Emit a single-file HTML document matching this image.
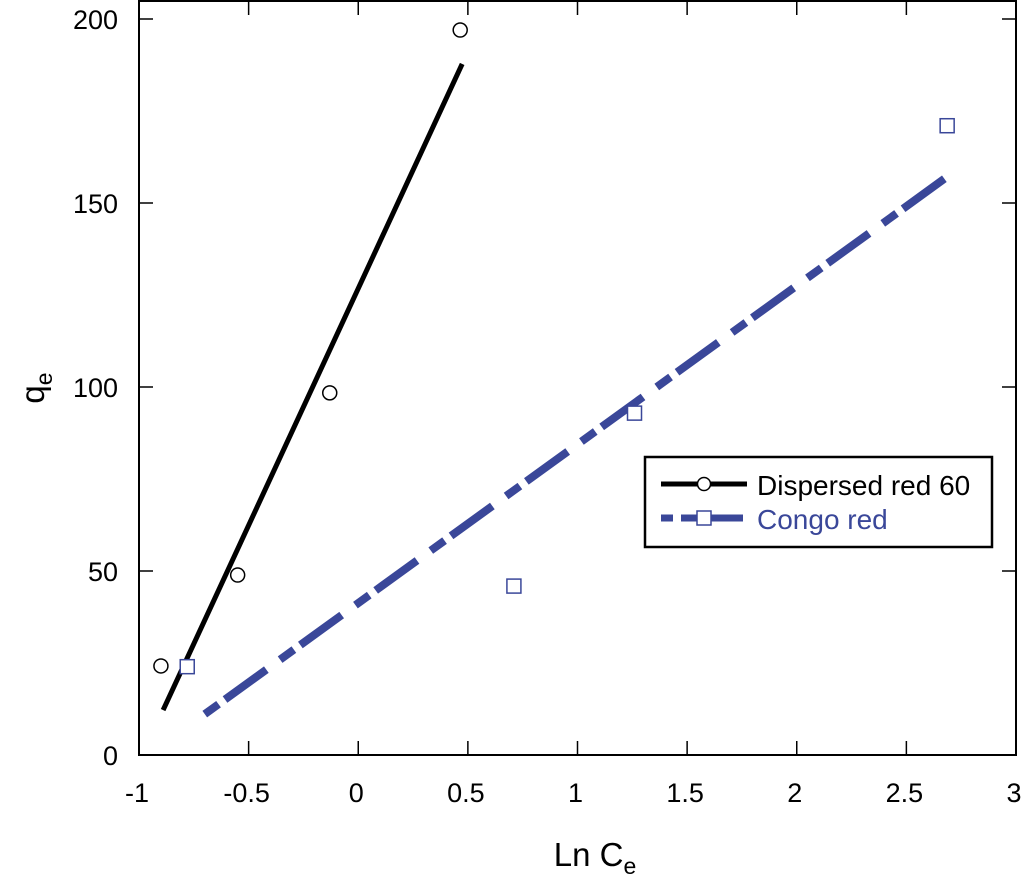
<!DOCTYPE html>
<html><head><meta charset="utf-8"><style>
body{margin:0;background:#fff}
svg{font-family:"Liberation Sans",Arial,sans-serif}
</style></head><body>
<svg width="1024" height="879" viewBox="0 0 1024 879">
<g id="axes"></g>
<g id="series"></g>
<g>
<rect x="645" y="457" width="347" height="90" fill="#fff" stroke="#000" stroke-width="2.5"/>
<g>
<line x1="661" y1="484" x2="747" y2="484" stroke="#000" stroke-width="5"/>
<circle cx="704" cy="484" r="6.5" fill="#fff" stroke="#000" stroke-width="1.5"/>
<text x="757" y="495" font-size="28" fill="#000">Dispersed red 60</text>
</g>
<g>
<line x1="661" y1="518" x2="673" y2="518" stroke="#3a4799" stroke-width="7"/>
<line x1="681" y1="518" x2="743" y2="518" stroke="#3a4799" stroke-width="7"/>
<rect x="697" y="511" width="14" height="14" fill="#fff" stroke="#3a4799" stroke-width="1.5"/>
<text x="757" y="529" font-size="28" fill="#3a4799">Congo red</text>
</g>
</g>
<text x="595" y="866" font-size="33" text-anchor="middle">Ln C<tspan font-size="23" dy="8">e</tspan></text>
<text transform="translate(44,388) rotate(-90)" font-size="33" text-anchor="middle">q<tspan font-size="23" dy="8">e</tspan></text>
</svg>
<script>
const xTicks=[-1,-0.5,0,0.5,1,1.5,2,2.5,3];
const xTickLabels=["-1","-0.5","0","0.5","1","1.5","2","2.5","3"];
const yTicks=[0,50,100,150,200];
const yTickLabels=["0","50","100","150","200"];
const dispX=[-0.90,-0.55,-0.13,0.465];
const dispY=[24.2,48.9,98.4,197];
const dispFitX=[-0.89,0.474];
const dispFitY=[12.2,187.8];
const congoX=[-0.78,0.71,1.26,2.686];
const congoY=[24,45.9,92.9,171];
const congoFitX=[-0.70,2.69];
const congoFitY=[11.1,157.3];
const L=139,R=1016,T=1,B=755;
const sx=v=>L+(v+1)*(R-L)/4;
const sy=v=>755-v*(755-19)/200;
const NS="http://www.w3.org/2000/svg";
function mk(tag,attrs,parent){const e=document.createElementNS(NS,tag);for(const k in attrs)e.setAttribute(k,attrs[k]);parent.appendChild(e);return e;}
const ax=document.getElementById('axes');
const fr=mk('rect',{x:L,y:T,width:R-L,height:B-T,fill:'none',stroke:'#000','stroke-width':2},ax);


xTicks.forEach((v,i)=>{
 const x=sx(v);
 const t=mk('line',{x1:x,y1:B,x2:x,y2:B-14,stroke:'#000','stroke-width':1.5},ax);
 
 
 const t2=mk('line',{x1:x,y1:T,x2:x,y2:T+14,stroke:'#000','stroke-width':1.5},ax);
 
 
 const lb=mk('text',{x:x-2,y:802,'font-size':27,'text-anchor':'middle'},ax);
 lb.textContent=xTickLabels[i];
 
 
});
yTicks.forEach((v,i)=>{
 const y=sy(v);
 const t=mk('line',{x1:L,y1:y,x2:L+14,y2:y,stroke:'#000','stroke-width':1.5},ax);
 
 
 const t2=mk('line',{x1:R,y1:y,x2:R-14,y2:y,stroke:'#000','stroke-width':1.5},ax);
 
 
 const lb=mk('text',{x:118,y:y+10,'font-size':27,'text-anchor':'end'},ax);
 lb.textContent=yTickLabels[i];
 
 
});
const se=document.getElementById('series');
const l1=mk('line',{x1:sx(dispFitX[0]),y1:sy(dispFitY[0]),x2:sx(dispFitX[1]),y2:sy(dispFitY[1]),stroke:'#000','stroke-width':5},se);


const l2=mk('line',{x1:sx(congoFitX[0]),y1:sy(congoFitY[0]),x2:sx(congoFitX[1]),y2:sy(congoFitY[1]),stroke:'#3a4799','stroke-width':8,'stroke-dasharray':'17 8 51 17'},se);


dispX.forEach((v,i)=>{
 const c=mk('circle',{cx:sx(v),cy:sy(dispY[i]),r:7,fill:'#fff',stroke:'#000','stroke-width':1.5},se);
 
 
});
congoX.forEach((v,i)=>{
 const c=mk('rect',{x:sx(v)-7,y:sy(congoY[i])-7,width:14,height:14,fill:'#fff',stroke:'#3a4799','stroke-width':1.5},se);
 
 
});
</script>
</body></html>
